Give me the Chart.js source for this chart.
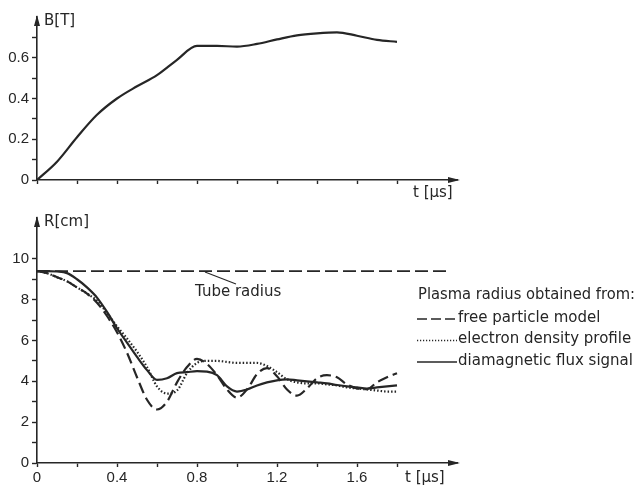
<!DOCTYPE html>
<html>
<head>
<meta charset="utf-8">
<title>Magnetic field and plasma radius</title>
<script src="https://cdn.jsdelivr.net/npm/chart.js@4/dist/chart.umd.min.js"></script>
<style>
  html, body { margin: 0; padding: 0; background: #fff; }
  #wrap { position: relative; width: 636px; height: 485px; overflow: hidden; }
  canvas { position: absolute; left: 0; }
  #fieldChart { top: 0; }
  #radiusChart { top: 200px; }
</style>
</head>
<body>
<div id="wrap">
  <canvas id="fieldChart" width="636" height="200"></canvas>
  <canvas id="radiusChart" width="636" height="285"></canvas>
</div>
<script>
// magnetic field B(t)
const timeB  = [0, 0.1, 0.2, 0.3, 0.4, 0.5, 0.6, 0.7, 0.8, 0.9, 1.0, 1.1, 1.2, 1.3, 1.4, 1.5, 1.6, 1.7, 1.8];
const fieldB = [0, 0.09, 0.21, 0.32, 0.40, 0.46, 0.515, 0.59, 0.658, 0.658, 0.655, 0.668, 0.69, 0.71, 0.72, 0.725, 0.708, 0.688, 0.678];

// plasma radius R(t), three methods
const timeR = [0, 0.05, 0.1, 0.15, 0.2, 0.25, 0.3, 0.35, 0.4, 0.45, 0.5, 0.55, 0.6, 0.65, 0.7, 0.75, 0.8, 0.85, 0.9,
               0.95, 1.0, 1.05, 1.1, 1.15, 1.2, 1.25, 1.3, 1.35, 1.4, 1.45, 1.5, 1.55, 1.6, 1.65, 1.7, 1.75, 1.8];
const freeParticle    = [9.4, 9.3, 9.1, 8.9, 8.6, 8.3, 7.85, 7.2, 6.4, 5.4, 4.2, 3.1, 2.62, 3.0, 3.95, 4.7, 5.1, 4.85, 4.3,
                         3.6, 3.2, 3.6, 4.35, 4.65, 4.25, 3.6, 3.3, 3.65, 4.15, 4.3, 4.2, 3.85, 3.65, 3.62, 3.95, 4.2, 4.4];
const electronDensity = [9.4, 9.3, 9.1, 8.9, 8.6, 8.3, 7.95, 7.35, 6.7, 6.1, 5.45, 4.7, 3.75, 3.4, 3.55, 4.4, 4.9, 5.0, 5.0,
                         4.95, 4.9, 4.9, 4.9, 4.75, 4.45, 4.1, 3.95, 3.9, 3.9, 3.85, 3.8, 3.7, 3.65, 3.6, 3.55, 3.5, 3.5];
const diamagneticFlux = [9.4, 9.4, 9.38, 9.3, 9.0, 8.6, 8.1, 7.4, 6.6, 5.9, 5.2, 4.55, 4.07, 4.15, 4.4, 4.45, 4.5, 4.48, 4.3,
                         3.75, 3.5, 3.6, 3.8, 3.95, 4.05, 4.1, 4.05, 4.0, 3.95, 3.9, 3.82, 3.75, 3.7, 3.65, 3.7, 3.75, 3.8];
const tubeTime   = [0, 2.07];
const tubeRadius = [9.4, 9.4];

// axis ticks
const timeTicks   = [0, 0.2, 0.4, 0.6, 0.8, 1.0, 1.2, 1.4, 1.6, 1.8];
const timeLabels  = ['0', '', '0.4', '', '0.8', '', '1.2', '', '1.6', ''];
const fieldTicks  = [0, 0.1, 0.2, 0.3, 0.4, 0.5, 0.6, 0.7];
const fieldLabels = ['0', '', '0.2', '', '0.4', '', '0.6', ''];
const radiusTicks  = [0, 1, 2, 3, 4, 5, 6, 7, 8, 9, 10];
const radiusLabels = ['0', '', '2', '', '4', '', '6', '', '8', '', '10'];

const legendTitle = 'Plasma radius obtained from:';
const seriesNames = ['free particle model', 'electron density profile', 'diamagnetic flux signal'];

const INK = '#262626';
const TICK_FONT = { family: 'Liberation Sans', size: 15 };
const TEXT_FONT = '15px "DejaVu Sans"';

const pts = (xs, ys) => xs.map((x, i) => ({ x, y: ys[i] }));

function timeAxis(labels, height) {
  return {
    type: 'linear', min: 0, max: 2.1,
    afterBuildTicks: s => { s.ticks = timeTicks.map(v => ({ value: v })); },
    afterFit: s => { s.height = height; },
    border: { display: true, color: INK, width: 1.6 },
    grid: { drawOnChartArea: false, drawTicks: true, tickLength: 4, tickColor: INK, tickWidth: 1.4 },
    ticks: {
      padding: 2, color: INK, font: TICK_FONT, maxRotation: 0, autoSkip: false,
      callback: (v, i) => labels ? labels[i] : ''
    }
  };
}

function valueAxis(max, ticks, labels) {
  return {
    type: 'linear', min: 0, max: max,
    afterBuildTicks: s => { s.ticks = ticks.map(v => ({ value: v })); },
    afterFit: s => { s.width = 37; },
    border: { display: true, color: INK, width: 1.6 },
    grid: { drawOnChartArea: false, drawTicks: true, tickLength: 5, tickColor: INK, tickWidth: 1.4 },
    ticks: { padding: 3, color: INK, font: TICK_FONT, autoSkip: false, callback: (v, i) => labels[i] }
  };
}

// arrow heads at the ends of both axes
const axisArrows = {
  id: 'axisArrows',
  afterDraw(chart) {
    const { ctx, chartArea: a } = chart;
    ctx.save();
    ctx.fillStyle = INK;
    ctx.beginPath();
    ctx.moveTo(a.left, a.top - 2);
    ctx.lineTo(a.left - 3, a.top + 9);
    ctx.lineTo(a.left + 3, a.top + 9);
    ctx.closePath();
    ctx.fill();
    ctx.beginPath();
    ctx.moveTo(a.right + 3, a.bottom);
    ctx.lineTo(a.right - 9, a.bottom - 3);
    ctx.lineTo(a.right - 9, a.bottom + 3);
    ctx.closePath();
    ctx.fill();
    ctx.restore();
  }
};

// axis names written next to the arrow heads
const axisNames = {
  id: 'axisNames',
  afterDraw(chart, args, opts) {
    const { ctx, chartArea: a } = chart;
    ctx.save();
    ctx.fillStyle = INK;
    ctx.font = TEXT_FONT;
    ctx.textBaseline = 'middle';
    ctx.textAlign = 'left';
    ctx.fillText(opts.y, a.left + 7, a.top + 4);
    ctx.fillText(opts.x, opts.xAt, a.bottom + opts.xDrop);
    ctx.restore();
  }
};

// "Tube radius" callout and the method legend
const radiusNotes = {
  id: 'radiusNotes',
  afterDraw(chart) {
    const { ctx } = chart;
    const xs = chart.scales.x, ys = chart.scales.y;
    const tx = xs.getPixelForValue(0.84), ty = ys.getPixelForValue(9.4);
    ctx.save();
    ctx.strokeStyle = INK;
    ctx.fillStyle = INK;
    ctx.lineWidth = 1.1;
    ctx.beginPath();
    ctx.moveTo(tx, ty + 1);
    ctx.lineTo(tx + 31, ty + 13);
    ctx.stroke();
    ctx.font = TEXT_FONT;
    ctx.textBaseline = 'middle';
    ctx.fillText('Tube radius', tx - 10, ty + 21);

    const lx = 417, ly = 95, edge = chart.width - 1;
    ctx.fillText(legendTitle, lx + 1, ly, edge - lx - 1);
    const dashes = [[10, 4], [1.2, 1.8], []];
    const widths = [1.6, 1.4, 1.6];
    seriesNames.forEach((name, i) => {
      const y = ly + 23 + i * 21.5;
      ctx.setLineDash(dashes[i]);
      ctx.lineWidth = widths[i];
      ctx.beginPath();
      ctx.moveTo(lx, y + 1);
      ctx.lineTo(lx + 40, y + 1);
      ctx.stroke();
      ctx.setLineDash([]);
      ctx.fillText(name, lx + 41, y, edge - lx - 41);
    });
    ctx.restore();
  }
};

Chart.defaults.animation = false;
Chart.defaults.font.family = 'Liberation Sans';

new Chart(document.getElementById('fieldChart'), {
  type: 'line',
  data: {
    datasets: [{
      data: pts(timeB, fieldB),
      borderColor: INK, borderWidth: 2.2, pointRadius: 0, cubicInterpolationMode: 'monotone'
    }]
  },
  options: {
    responsive: false,
    layout: { padding: { left: 0, top: 17, right: 179, bottom: 0 } },
    plugins: {
      legend: { display: false }, tooltip: { enabled: false },
      axisNames: { y: 'B[T]', x: 't [µs]', xAt: 413, xDrop: 13 }
    },
    scales: { x: timeAxis(null, 20), y: valueAxis(0.8, fieldTicks, fieldLabels) }
  },
  plugins: [axisArrows, axisNames]
});

new Chart(document.getElementById('radiusChart'), {
  type: 'line',
  data: {
    datasets: [
      { data: pts(tubeTime, tubeRadius), borderColor: INK, borderWidth: 1.8, borderDash: [13, 5], pointRadius: 0 },
      { data: pts(timeR, freeParticle), borderColor: INK, borderWidth: 2.2, borderDash: [11, 5], pointRadius: 0, cubicInterpolationMode: 'monotone' },
      { data: pts(timeR, electronDensity), borderColor: INK, borderWidth: 2.2, borderDash: [1.5, 2], pointRadius: 0, cubicInterpolationMode: 'monotone' },
      { data: pts(timeR, diamagneticFlux), borderColor: INK, borderWidth: 2.2, pointRadius: 0, cubicInterpolationMode: 'monotone' }
    ]
  },
  options: {
    responsive: false,
    layout: { padding: { left: 0, top: 18, right: 179, bottom: 0 } },
    plugins: {
      legend: { display: false }, tooltip: { enabled: false },
      axisNames: { y: 'R[cm]', x: 't [µs]', xAt: 405, xDrop: 15 }
    },
    scales: { x: timeAxis(timeLabels, 22), y: valueAxis(12, radiusTicks, radiusLabels) }
  },
  plugins: [axisArrows, axisNames, radiusNotes]
});
</script>
</body>
</html>
